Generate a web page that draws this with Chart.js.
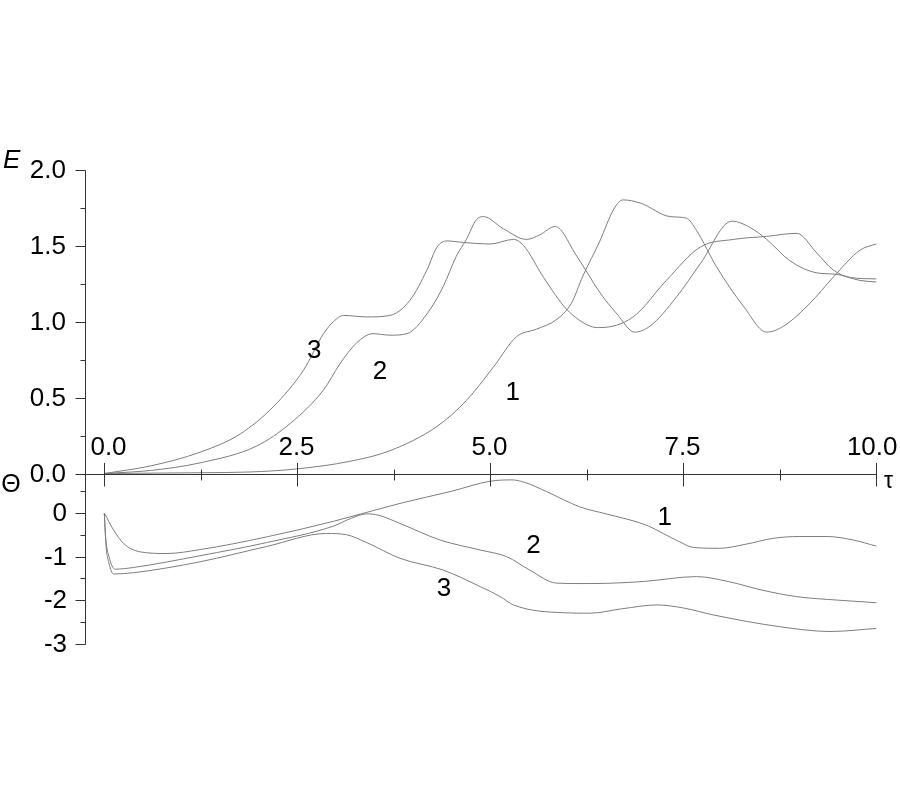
<!DOCTYPE html>
<html>
<head>
<meta charset="utf-8">
<script src="https://cdn.jsdelivr.net/npm/chart.js@4"></script>
<style>
  html, body { margin: 0; padding: 0; background: #fff; }
  #wrap { width: 900px; height: 800px; position: relative; }
</style>
</head>
<body>
<div id="wrap"><canvas id="chart"></canvas></div>
<script>
// E(tau), upper panel
const tauE1 = [0, 1.24, 1.89, 2.49, 3.18, 3.70, 4.31, 4.69, 5.04, 5.34, 5.60, 5.85, 6.05, 6.20, 6.42, 6.60, 6.72, 6.94, 7.33, 7.54, 7.67, 7.93, 8.28, 8.58, 8.80, 9.14, 9.44, 9.79, 10];
const valE1 = [0, 0.005, 0.01, 0.03, 0.08, 0.15, 0.31, 0.48, 0.70, 0.90, 0.95, 1.01, 1.12, 1.30, 1.53, 1.74, 1.80, 1.78, 1.69, 1.68, 1.60, 1.36, 1.10, 0.93, 0.97, 1.12, 1.29, 1.47, 1.51];

const tauE2 = [0, 0.60, 1.24, 1.97, 2.41, 2.84, 3.05, 3.27, 3.48, 3.70, 3.92, 4.18, 4.39, 4.56, 4.69, 4.82, 4.91, 5.17, 5.47, 5.64, 5.84, 6.12, 6.42, 6.64, 6.87, 7.07, 7.41, 7.72, 8.13, 8.36, 8.58, 8.88, 9.23, 9.49, 9.79, 10];
const valE2 = [0, 0.02, 0.07, 0.18, 0.33, 0.55, 0.72, 0.86, 0.92, 0.91, 0.92, 1.05, 1.23, 1.43, 1.54, 1.67, 1.69, 1.61, 1.54, 1.57, 1.625, 1.43, 1.19, 1.05, 0.93, 0.97, 1.16, 1.38, 1.66, 1.62, 1.54, 1.40, 1.32, 1.31, 1.27, 1.26];

const tauE3 = [0, 0.60, 1.24, 1.76, 2.19, 2.58, 2.84, 2.97, 3.10, 3.40, 3.70, 3.96, 4.18, 4.31, 4.44, 4.65, 5.00, 5.30, 5.43, 5.69, 5.99, 6.29, 6.42, 6.85, 7.28, 7.72, 8.15, 8.58, 8.97, 9.23, 9.44, 9.66, 10];
const valE3 = [0, 0.05, 0.14, 0.26, 0.44, 0.68, 0.92, 1.00, 1.04, 1.03, 1.04, 1.14, 1.34, 1.49, 1.53, 1.52, 1.51, 1.54, 1.50, 1.29, 1.08, 0.97, 0.96, 1.03, 1.27, 1.49, 1.54, 1.56, 1.58, 1.45, 1.34, 1.29, 1.28];

// Theta(tau), lower panel
const tauT1 = [0, 0.12, 0.25, 0.46, 0.81, 1.24, 2.10, 2.97, 3.83, 4.50, 5.00, 5.28, 5.45, 5.73, 6.16, 6.50, 6.81, 7.05, 7.24, 7.45, 7.63, 7.97, 8.30, 8.67, 9.00, 9.36, 9.70, 10];
const valT1 = [0, -0.39, -0.70, -0.89, -0.93, -0.84, -0.55, -0.19, 0.22, 0.50, 0.73, 0.76, 0.70, 0.49, 0.14, -0.02, -0.16, -0.30, -0.47, -0.66, -0.79, -0.81, -0.72, -0.58, -0.54, -0.54, -0.62, -0.76];

const tauT2 = [0, 0.02, 0.06, 0.14, 0.38, 1.24, 2.10, 2.97, 3.20, 3.40, 3.55, 3.83, 4.35, 4.87, 5.21, 5.51, 5.86, 6.20, 6.59, 7.00, 7.67, 8.10, 8.52, 8.97, 9.50, 10];
const valT2 = [0, -0.60, -1.00, -1.29, -1.25, -0.98, -0.68, -0.30, -0.12, -0.02, -0.05, -0.24, -0.62, -0.85, -1.00, -1.31, -1.61, -1.62, -1.61, -1.57, -1.46, -1.58, -1.77, -1.92, -2.00, -2.06];

const tauT3 = [0, 0.02, 0.06, 0.12, 0.38, 1.24, 2.10, 2.88, 3.14, 3.40, 3.83, 4.39, 4.87, 5.13, 5.30, 5.95, 6.29, 6.70, 7.16, 7.50, 7.89, 8.75, 9.40, 10];
const valT3 = [0, -0.70, -1.15, -1.40, -1.37, -1.12, -0.77, -0.47, -0.50, -0.68, -1.04, -1.31, -1.69, -1.92, -2.11, -2.29, -2.30, -2.20, -2.11, -2.18, -2.34, -2.61, -2.72, -2.65];

// axes ticks
const tauTicks = [0, 2.5, 5, 7.5, 10];
const tauTickLabels = ['0.0', '2.5', '5.0', '7.5', '10.0'];
const tauMinor = [1.25, 3.75, 6.25, 8.75];
const eTicks = [0, 0.5, 1, 1.5, 2];
const eTickLabels = ['0.0', '0.5', '1.0', '1.5', '2.0'];
const eMinor = [0.25, 0.75, 1.25, 1.75];
const thetaTicks = [0, -1, -2, -3];
const thetaTickLabels = ['0', '-1', '-2', '-3'];
const thetaMinor = [0.5, -0.5, -1.5, -2.5];

// curve numbers, in data coordinates
const eCurveNames = ['1', '2', '3'];
const eNameTau = [5.29, 3.57, 2.72];
const eNameVal = [0.53, 0.67, 0.81];
const tCurveNames = ['1', '2', '3'];
const tNameTau = [7.26, 5.56, 4.40];
const tNameVal = [-0.11, -0.76, -1.74];

const FONT = '"Liberation Sans", Arial, Helvetica, sans-serif';
const LINE = '#7d7d7d';
const AXIS = '#333';

function pts(ts, vs) {
    return ts.map((t, i) => ({ x: t, y: vs[i] }));
}

function curve(ts, vs, axis) {
    return {
        data: pts(ts, vs),
        yAxisID: axis,
        borderColor: LINE,
        borderWidth: 1,
        pointRadius: 0,
        fill: false,
        cubicInterpolationMode: 'monotone',
        clip: false
    };
}

const axesPlugin = {
    id: 'axes',
    afterDatasetsDraw(chart) {
        const { ctx, chartArea, scales } = chart;
        const X = v => Math.round(scales.x.getPixelForValue(v)) + 0.5;
        const YE = v => Math.round(scales.yE.getPixelForValue(v)) + 0.5;
        const YT = v => Math.round(scales.yT.getPixelForValue(v)) + 0.5;
        const left = Math.round(chartArea.left) + 0.5;

        ctx.save();
        ctx.strokeStyle = AXIS;
        ctx.lineWidth = 1;
        ctx.beginPath();
        // left axis through both panels
        ctx.moveTo(left, YE(2));
        ctx.lineTo(left, YT(-3));
        // tau axis at E = 0
        ctx.moveTo(left, YE(0));
        ctx.lineTo(X(10), YE(0));

        eTicks.forEach(v => { ctx.moveTo(left - 10, YE(v)); ctx.lineTo(left, YE(v)); });
        eMinor.forEach(v => { ctx.moveTo(left - 5, YE(v)); ctx.lineTo(left, YE(v)); });
        thetaTicks.forEach(v => { ctx.moveTo(left - 10, YT(v)); ctx.lineTo(left, YT(v)); });
        thetaMinor.forEach(v => { ctx.moveTo(left - 5, YT(v)); ctx.lineTo(left, YT(v)); });

        const y0 = YE(0);
        tauTicks.forEach(v => { ctx.moveTo(X(v), y0 - 11.5); ctx.lineTo(X(v), y0 + 12); });
        tauMinor.forEach(v => { ctx.moveTo(X(v), y0 - 5); ctx.lineTo(X(v), y0 + 6); });
        ctx.stroke();

        ctx.fillStyle = '#000';
        ctx.font = '26px ' + FONT;
        ctx.textAlign = 'right';
        ctx.textBaseline = 'middle';
        eTicks.forEach((v, i) => ctx.fillText(eTickLabels[i], 66, YE(v)));
        thetaTicks.forEach((v, i) => ctx.fillText(thetaTickLabels[i], 67, YT(v)));

        ctx.textBaseline = 'alphabetic';
        tauTicks.forEach((v, i) => {
            const last = i === tauTicks.length - 1;
            ctx.textAlign = last ? 'right' : 'center';
            const tx = i === 0 ? X(v) + 4 : (last ? X(v) + 21 : X(v) - 1);
            ctx.fillText(tauTickLabels[i], tx, y0 - 20);
        });

        ctx.textAlign = 'center';
        ctx.textBaseline = 'middle';
        eCurveNames.forEach((s, i) => ctx.fillText(s, scales.x.getPixelForValue(eNameTau[i]), scales.yE.getPixelForValue(eNameVal[i])));
        tCurveNames.forEach((s, i) => ctx.fillText(s, scales.x.getPixelForValue(tNameTau[i]), scales.yT.getPixelForValue(tNameVal[i])));

        ctx.font = '25px ' + FONT;
        ctx.fillText('\u0398', 11, 485);
        ctx.textAlign = 'left';
        ctx.textBaseline = 'alphabetic';
        ctx.font = 'italic 26px ' + FONT;
        ctx.fillText('E', 3, 168);
        ctx.font = '23px ' + FONT;
        ctx.fillText('\u03c4', 884, 488);
        ctx.restore();
    }
};

new Chart(document.getElementById('chart'), {
    type: 'line',
    data: {
        datasets: [
            curve(tauE1, valE1, 'yE'),
            curve(tauE2, valE2, 'yE'),
            curve(tauE3, valE3, 'yE'),
            curve(tauT1, valT1, 'yT'),
            curve(tauT2, valT2, 'yT'),
            curve(tauT3, valT3, 'yT')
        ]
    },
    options: {
        responsive: true,
        maintainAspectRatio: false,
        animation: false,
        events: [],
        layout: { padding: { left: 85, right: 23.7, top: 169.5, bottom: 156.3 } },
        plugins: { legend: { display: false }, tooltip: { enabled: false } },
        scales: {
            x: { type: 'linear', min: -0.25, max: 10, display: false },
            yE: { type: 'linear', position: 'left', min: -1.1197, max: 2, display: false },
            yT: { type: 'linear', position: 'left', min: -3, max: 7.884, display: false }
        }
    },
    plugins: [axesPlugin]
});
</script>
</body>
</html>
